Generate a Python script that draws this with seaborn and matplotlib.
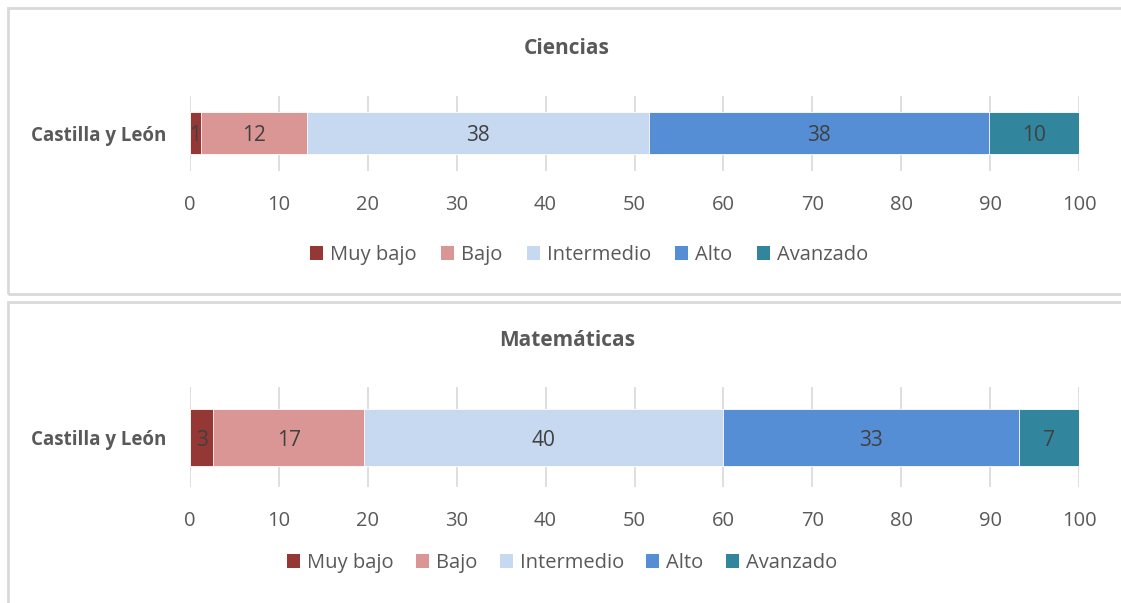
import matplotlib
matplotlib.use("Agg")
import matplotlib.pyplot as plt
from matplotlib.patches import Patch, Rectangle
import numpy as np
import pandas as pd
import seaborn as sns

# data (percent of students per level)
levels = ["Muy bajo", "Bajo", "Intermedio", "Alto", "Avanzado"]
colors = ["#953735", "#d99694", "#c6d9f1", "#558ed5", "#31859c"]
region = "Castilla y León"
ciencias = [1.2, 12.0, 38.4, 38.3, 10.1]
matematicas = [2.6, 17.0, 40.3, 33.3, 6.8]
ticks = list(range(0, 101, 10))

sns.set_theme(style="white")
plt.rcParams["font.family"] = ["Open Sans", "DejaVu Sans"]

W, H = 1121, 603
fig = plt.figure(figsize=(W / 100, H / 100), dpi=100)
grey = "#595959"


def px_axes(left, top, right, bottom):
    return fig.add_axes([left / W, 1 - bottom / H, (right - left) / W, (bottom - top) / H])


def stacked(ax, values, bar_h):
    cum = np.cumsum(values)
    # draw cumulative totals from the longest down so the segments stack
    for i in range(len(values) - 1, -1, -1):
        df = pd.DataFrame({"region": [region], "value": [cum[i]]})
        sns.barplot(data=df, x="value", y="region", orient="h", color=colors[i],
                    saturation=1, width=bar_h, edgecolor="white", linewidth=0.6, ax=ax)
    for v, c in zip(values, cum):
        ax.text(c - v / 2, 0.03, f"{round(v)}", ha="center", va="center",
                fontsize=15, color="#404040")
    ax.set_xlim(0, 100)
    ax.set_xticks(ticks)
    ax.set_xticklabels([str(t) for t in ticks], fontsize=14.5, color=grey)
    ax.set_xlabel("")
    ax.set_ylabel("")
    ax.tick_params(axis="x", length=0, pad=17)
    ax.tick_params(axis="y", length=0, pad=17)
    for lab in ax.get_yticklabels():
        lab.set_fontsize(13.5)
        lab.set_fontweight("bold")
        lab.set_color(grey)
    ax.grid(axis="x", color="#d9d9d9", linewidth=1.2)
    ax.set_axisbelow(True)
    sns.despine(ax=ax, left=True, bottom=True)


# panel frames
for x0, y0, x1, y1 in [(8, 8, 1130, 294), (8, 302, 1130, 615)]:
    fig.patches.append(Rectangle((x0 / W, 1 - y1 / H), (x1 - x0) / W, (y1 - y0) / H,
                                 transform=fig.transFigure, fill=False,
                                 edgecolor="#d9d9d9", linewidth=2))

ax1 = px_axes(190, 96, 1079, 171)
stacked(ax1, ciencias, 0.56)
ax2 = px_axes(190, 387, 1079, 487)
stacked(ax2, matematicas, 0.57)

fig.text(567 / W, 1 - 48 / H, "Ciencias", ha="center", va="center",
         fontsize=15, fontweight="bold", color=grey)
fig.text(567 / W, 1 - 340 / H, "Matemáticas", ha="center", va="center",
         fontsize=15, fontweight="bold", color=grey)

handles = [Patch(facecolor=c, edgecolor="none", label=l) for c, l in zip(colors, levels)]
for cx, cy, sp in [(589, 255, 1.2), (562, 563, 1.1)]:
    leg = fig.legend(handles=handles, loc="center", bbox_to_anchor=(cx / W, 1 - cy / H),
                     ncol=5, frameon=False, fontsize=14.5, handlelength=0.65,
                     handleheight=0.65, handletextpad=0.35, columnspacing=sp)
    for t in leg.get_texts():
        t.set_color(grey)

fig.savefig("out.png", dpi=100)
